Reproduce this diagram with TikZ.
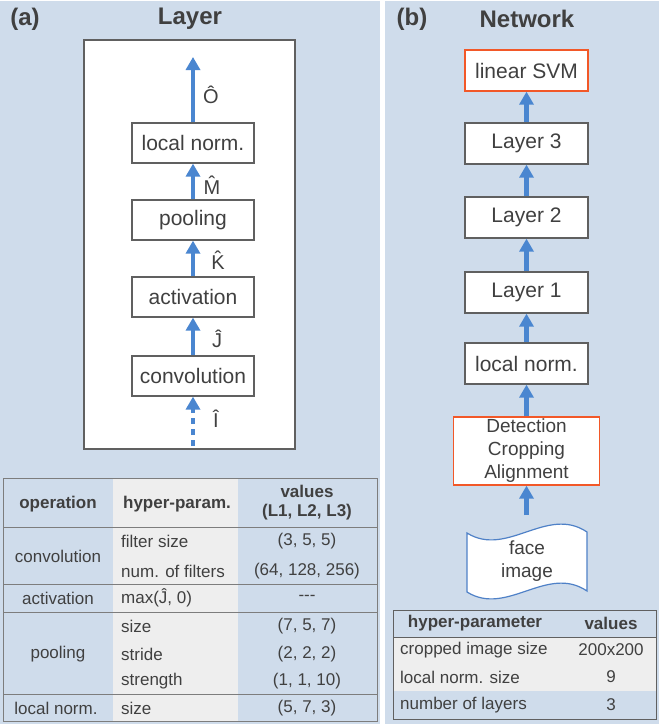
\documentclass[tikz,border=0pt]{standalone}
\usepackage{fontspec}
\setmainfont{Liberation Sans}
\usetikzlibrary{arrows.meta}

\definecolor{panelbg}{RGB}{207,220,235}
\definecolor{txt}{RGB}{64,64,64}
\definecolor{boxline}{RGB}{96,96,96}
\definecolor{flowblue}{RGB}{74,134,208}
\definecolor{hiline}{RGB}{242,88,40}
\definecolor{cellgray}{RGB}{238,238,238}
\definecolor{tableline}{RGB}{125,125,125}
\definecolor{tapeblue}{RGB}{79,129,199}

\tikzset{
  opbox/.style={draw=boxline, line width=1.3pt, fill=white, minimum width=122pt,
    minimum height=40pt, inner sep=0pt, text=txt, font=\fontsize{21}{25}\selectfont},
  keybox/.style={opbox, draw=hiline},
  flowarrow/.style={draw=flowblue, line width=4.5pt, -{Triangle[width=14pt,length=13pt]}},
  paneltitle/.style={text=txt, font=\bfseries\fontsize{24}{28}\selectfont, inner sep=0pt},
  tcell/.style={text=txt, font=\fontsize{17}{20}\selectfont, inner sep=0pt},
  thead/.style={tcell, font=\bfseries\fontsize{17}{20}\selectfont},
  hatlabel/.style={text=txt, font=\fontsize{20}{24}\selectfont, inner sep=0pt, anchor=base},
  tabrule/.style={draw=tableline, line width=1pt},
}

\begin{document}
\begin{tikzpicture}[x=1pt, y=-1pt]
\useasboundingbox (0,0) rectangle (659,725);

% panel backgrounds
\fill[panelbg] (0,1) rectangle (380,724);
\fill[panelbg] (385,1) rectangle (659,724);

% ---------------- (a) Layer ----------------
\node[paneltitle] (tagA) at (25,19) {(a)};
\node[paneltitle] (titleA) at (190,19) {Layer};

\draw[draw=boxline, line width=1.3pt, fill=white] (84,40) rectangle (295,449);

\node[opbox] (lnorm) at (193,143) {local norm.};
\node[opbox] (pool)  at (193,220) {pooling};
\node[opbox] (act)   at (193,297) {activation};
\node[opbox] (conv)  at (193,376) {convolution};

\coordinate (outtip) at (193,57);
\coordinate (intail) at (193,446);

\draw[flowarrow] (lnorm) -- (outtip);
\draw[flowarrow] (pool) -- (lnorm);
\draw[flowarrow] (act) -- (pool);
\draw[flowarrow] (conv) -- (act);
\draw[flowarrow, dash pattern=on 6pt off 5pt] (intail) -- (conv);

\node[hatlabel] (hatO) at (211,103) {Ô};
\node[hatlabel] (hatM) at (212,194) {\accent"02C6 M};
\node[hatlabel] (hatK) at (218,269) {\accent"02C6 K};
\node[hatlabel] (hatJ) at (217,347) {Ĵ};
\node[hatlabel] (hatI) at (216,427) {Î};

% layer parameter table
\fill[cellgray] (113,478) rectangle (238,721);
\draw[tabrule] (3,478) rectangle (377,721);
\draw[tabrule] (3,527) -- (377,527);
\draw[tabrule] (3,584) -- (377,584);
\draw[tabrule] (3,612) -- (377,612);
\draw[tabrule] (3,694) -- (377,694);

\node[thead] (hOp) at (58,504) {operation};
\node[thead] (hHp) at (177,504) {hyper-param.};
\node[thead, align=center, font=\bfseries\fontsize{17}{19}\selectfont] (hVal) at (307,503) {values\\(L1, L2, L3)};

\node[tcell] (opConv) at (58,556) {convolution};
\node[tcell, anchor=west] (pFs) at (121,541) {filter size};
\node[tcell, anchor=west] (pNf) at (121,571) {num. of filters};
\node[tcell] (vFs) at (307,541) {(3, 5, 5)};
\node[tcell] (vNf) at (307,571) {(64, 128, 256)};

\node[tcell] (opAct) at (58,598) {activation};
\node[tcell, anchor=west] (pMax) at (121,598) {max(Ĵ, 0)};
\node[tcell] (vMax) at (307,598) {-{}-{}-};

\node[tcell] (opPool) at (58,654) {pooling};
\node[tcell, anchor=west] (pSz) at (121,626) {size};
\node[tcell, anchor=west] (pSt) at (121,654) {stride};
\node[tcell, anchor=west] (pStr) at (121,681) {strength};
\node[tcell] (vSz) at (307,626) {(7, 5, 7)};
\node[tcell] (vSt) at (307,654) {(2, 2, 2)};
\node[tcell] (vStr) at (307,681) {(1, 1, 10)};

\node[tcell] (opLn) at (56,708) {local norm.};
\node[tcell, anchor=west] (pLn) at (121,708) {size};
\node[tcell] (vLn) at (307,708) {(5, 7, 3)};

% ---------------- (b) Network ----------------
\node[paneltitle] (tagB) at (412,19) {(b)};
\node[paneltitle] (titleB) at (527,19) {Network};

\node[keybox, minimum width=123pt, minimum height=41pt] (svm) at (526.5,70.5) {linear SVM};
\node[opbox, minimum width=123pt, minimum height=41pt] (layer3) at (526.5,143.5) {Layer 3};
\node[opbox, minimum width=123pt, minimum height=41pt] (layer2) at (526.5,217.5) {Layer 2};
\node[opbox, minimum width=123pt, minimum height=41pt] (layer1) at (526.5,292.5) {Layer 1};
\node[opbox, minimum width=123pt, minimum height=41pt] (lnormb) at (526.5,363.5) {local norm.};
\node[keybox, minimum width=146pt, minimum height=68pt, align=center,
      font=\fontsize{19}{23}\selectfont] (detect) at (526.5,451) {Detection\\Cropping\\Alignment};

% face image as a punched-tape outline
\draw[draw=tapeblue, line width=1.2pt, fill=white]
  (467,533) .. controls (507,558) and (547,505) .. (587,532)
  -- (587,591) .. controls (547,564) and (507,617) .. (467,592) -- cycle;
\node[text=txt, align=center, inner sep=0pt, font=\fontsize{19}{23}\selectfont] (face) at (527,561) {face\\image};
\coordinate (facein) at (526.5,515);

\draw[flowarrow] (facein) -- (detect);
\draw[flowarrow] (detect) -- (lnormb);
\draw[flowarrow] (lnormb) -- (layer1);
\draw[flowarrow] (layer1) -- (layer2);
\draw[flowarrow] (layer2) -- (layer3);
\draw[flowarrow] (layer3) -- (svm);

% network parameter table
\fill[cellgray] (393,637) rectangle (656,691);
\draw[tabrule, draw=boxline] (393,610) rectangle (656,719);
\draw[tabrule, draw=boxline] (393,637) -- (656,637);

\node[thead] (nhP) at (475,623) {hyper-parameter};
\node[thead] (nhV) at (611,623) {values};
\node[tcell, anchor=west] (nCrop) at (400,650) {cropped image size};
\node[tcell, anchor=west] (nLn) at (400,677) {local norm. size};
\node[tcell, anchor=west] (nLay) at (400,705) {number of layers};
\node[tcell] (nvCrop) at (611,650) {200x200};
\node[tcell] (nvLn) at (611,677) {9};
\node[tcell] (nvLay) at (611,705) {3};
\end{tikzpicture}
\end{document}
